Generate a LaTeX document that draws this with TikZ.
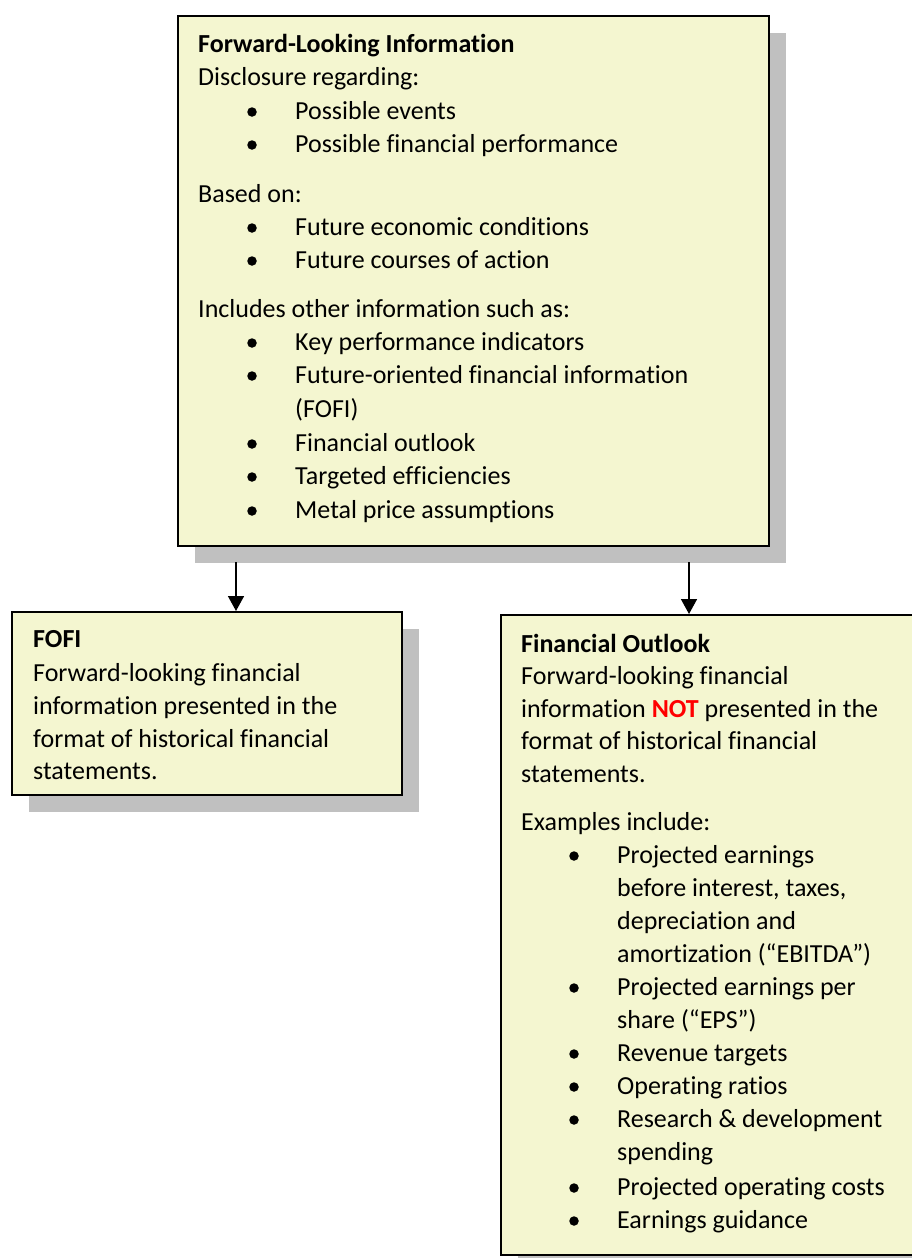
\documentclass[tikz,border=0pt]{standalone}
\usepackage{fontspec}
\setmainfont{Carlito}[Ligatures=NoCommon]
\usetikzlibrary{arrows.meta,shadows}
\definecolor{boxfill}{RGB}{244,246,208}
\definecolor{shadowgray}{RGB}{192,192,192}
\definecolor{notred}{RGB}{255,0,0}
\begin{document}
\begin{tikzpicture}[x=1pt,y=-1pt,
  box/.style={draw=black, line width=1.8pt, fill=boxfill, rectangle, inner sep=0pt, anchor=north west,
    copy shadow={shadow xshift=17pt, shadow yshift=-17pt, draw=none, fill=shadowgray}},
  txt/.style={anchor=base west, inner sep=0pt, font=\fontsize{26}{31}\selectfont},
  bul/.style={circle, fill=black, inner sep=0pt, minimum size=9.5pt},
  arr/.style={line width=1.6pt, -{Triangle[width=16pt,length=15pt]}}]
\useasboundingbox (0,0) rectangle (912,1258);
\clip (0,0) rectangle (912,1258);
% boxes
\node[box, minimum width=591pt, minimum height=530pt] (top) at (177,15) {};
\node[box, minimum width=390pt, minimum height=183pt] (fofi) at (11,611) {};
\node[box, minimum width=440pt, minimum height=640pt] (outlook) at (500,614) {};
% arrows
\coordinate (a1) at (236,562);
\coordinate (a2) at (689,562);
\draw[arr] (a1) -- (a1 |- fofi.north);
\draw[arr] (a2) -- (a2 |- outlook.north);
% top box text
\node[txt] (t1) at (198,52) {\textbf{Forward-Looking Information}};
\node[txt] (t2) at (198,85) {Disclosure regarding:};
\node[bul] (b1) at (252,112) {}; \node[txt] (t3) at (295,119) {Possible events};
\node[bul] (b2) at (252,145) {}; \node[txt] (t4) at (295,152) {Possible financial performance};
\node[txt] (t5) at (198,202) {Based on:};
\node[bul] (b3) at (252,228) {}; \node[txt] (t6) at (295,235) {Future economic conditions};
\node[bul] (b4) at (252,261) {}; \node[txt] (t7) at (295,268) {Future courses of action};
\node[txt] (t8) at (198,317) {Includes other information such as:};
\node[bul] (b5) at (252,343) {}; \node[txt] (t9) at (295,350) {Key performance indicators};
\node[bul] (b6) at (252,376) {}; \node[txt] (t10) at (295,383) {Future-oriented financial information};
\node[txt] (t11) at (295,417) {(FOFI)};
\node[bul] (b7) at (252,444) {}; \node[txt] (t12) at (295,451) {Financial outlook};
\node[bul] (b8) at (252,477) {}; \node[txt] (t13) at (295,484) {Targeted efficiencies};
\node[bul] (b9) at (252,511) {}; \node[txt] (t14) at (295,518) {Metal price assumptions};
% FOFI box text
\node[txt] (f1) at (33,647) {\textbf{FOFI}};
\node[txt] (f2) at (33,681) {Forward-looking financial};
\node[txt] (f3) at (33,714) {information presented in the};
\node[txt] (f4) at (33,747) {format of historical financial};
\node[txt] (f5) at (33,779) {statements.};
% outlook box text
\node[txt] (o1) at (521,652) {\textbf{Financial Outlook}};
\node[txt] (o2) at (521,684) {Forward-looking financial};
\node[txt] (o3) at (521,717) {information \textcolor{notred}{\textbf{NOT}} presented in the};
\node[txt] (o4) at (521,749) {format of historical financial};
\node[txt] (o5) at (521,782) {statements.};
\node[txt] (o6) at (521,830) {Examples include:};
\node[bul] (c1) at (574,856) {}; \node[txt] (o7) at (617,863) {Projected earnings};
\node[txt] (o8) at (617,896) {before interest, taxes,};
\node[txt] (o9) at (617,929) {depreciation and};
\node[txt] (o10) at (617,962) {amortization (“EBITDA”)};
\node[bul] (c2) at (574,988) {}; \node[txt] (o11) at (617,995) {Projected earnings per};
\node[txt] (o12) at (617,1028) {share (“EPS”)};
\node[bul] (c3) at (574,1054) {}; \node[txt] (o13) at (617,1061) {Revenue targets};
\node[bul] (c4) at (574,1087) {}; \node[txt] (o14) at (617,1094) {Operating ratios};
\node[bul] (c5) at (574,1120) {}; \node[txt] (o15) at (617,1127) {Research \& development};
\node[txt] (o16) at (617,1160) {spending};
\node[bul] (c6) at (574,1188) {}; \node[txt] (o17) at (617,1195) {Projected operating costs};
\node[bul] (c7) at (574,1221) {}; \node[txt] (o18) at (617,1228) {Earnings guidance};
\end{tikzpicture}
\end{document}
